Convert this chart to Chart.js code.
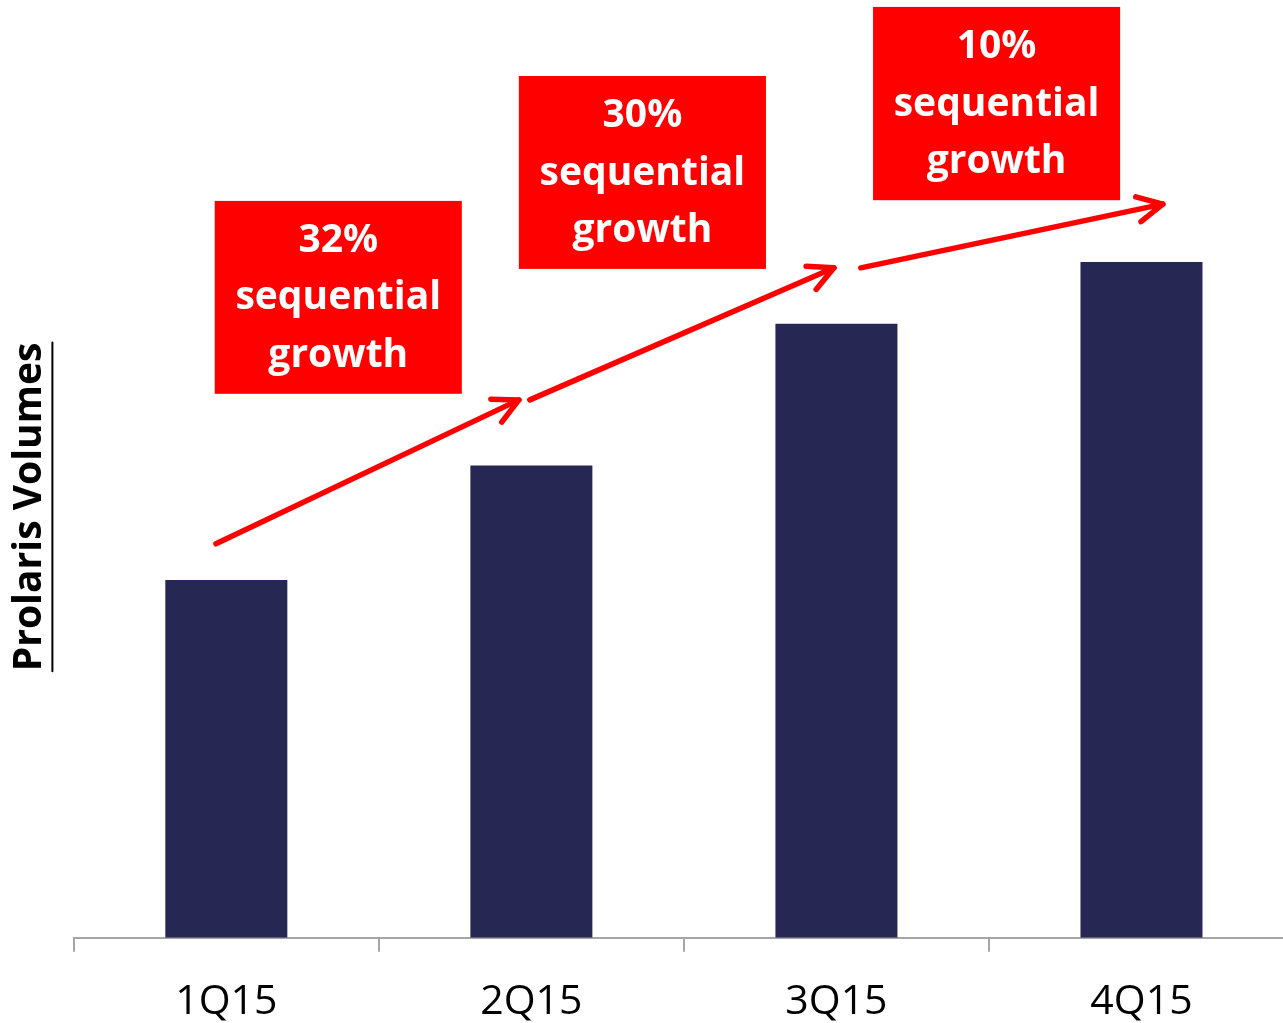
<!DOCTYPE html>
<html>
<head>
<meta charset="utf-8">
<script src="https://cdn.jsdelivr.net/npm/chart.js@4/dist/chart.umd.min.js"></script>
<style>
  html, body { margin: 0; padding: 0; background: #ffffff; overflow: hidden; }
  #wrap { width: 1283px; height: 1023px; overflow: hidden; }
  canvas { display: block; }
</style>
</head>
<body>
<div id="wrap"><canvas id="c" width="1296" height="1053"></canvas></div>
<script>
// ---- data ----
const categories = ['1Q15', '2Q15', '3Q15', '4Q15'];
const volumes = [100, 132, 171.6, 188.8];          // relative Prolaris volumes (1Q15 = 100)
const growthLabels = ['32%', '30%', '10%'];
const growthText = ['sequential', 'growth'];
const axisTitle = 'Prolaris Volumes';

// ---- annotation layout (data coordinates: category index, value) ----
const boxLayout = [
  { x0: -0.038, x1: 0.772, yTop: 205.9, yBot: 152.0 },
  { x0: 0.959,  x1: 1.769, yTop: 240.8, yBot: 186.9 },
  { x0: 2.120,  x1: 2.930, yTop: 260.1, yBot: 206.1 }
];
const arrowLayout = [
  { x0: -0.034, y0: 110.1, x1: 0.959, y1: 150.3 },
  { x0: 0.995,  y0: 150.3, x1: 1.992, y1: 187.2 },
  { x0: 2.080,  y0: 187.2, x1: 3.070, y1: 205.0 }
];

const RED = '#ff0000';
const TITLE_FONT = { family: 'Open Sans', size: 39, weight: 'bold', lineHeight: 1.2 };
const TITLE_PAD = { top: 6, bottom: 13 };

const annotations = {
  id: 'annotations',
  afterDraw(chart) {
    const { ctx, scales: { x, y } } = chart;
    ctx.save();
    // arrows
    ctx.strokeStyle = RED;
    ctx.lineWidth = 5.5;
    ctx.lineCap = 'round';
    ctx.lineJoin = 'round';
    arrowLayout.forEach(a => {
      const sx = x.getPixelForValue(a.x0), sy = y.getPixelForValue(a.y0);
      const ex = x.getPixelForValue(a.x1), ey = y.getPixelForValue(a.y1);
      ctx.beginPath();
      ctx.moveTo(sx, sy);
      ctx.lineTo(ex, ey);
      ctx.stroke();
      const ang = Math.atan2(ey - sy, ex - sx);
      const len = 28, spread = 0.47;
      ctx.beginPath();
      ctx.moveTo(ex - len * Math.cos(ang - spread), ey - len * Math.sin(ang - spread));
      ctx.lineTo(ex, ey);
      ctx.lineTo(ex - len * Math.cos(ang + spread), ey - len * Math.sin(ang + spread));
      ctx.stroke();
    });
    // boxes
    ctx.font = 'bold 39px "Open Sans"';
    ctx.textAlign = 'center';
    ctx.textBaseline = 'middle';
    boxLayout.forEach((b, i) => {
      const l = x.getPixelForValue(b.x0), r = x.getPixelForValue(b.x1);
      const t = y.getPixelForValue(b.yTop), bt = y.getPixelForValue(b.yBot);
      ctx.fillStyle = RED;
      ctx.fillRect(l, t, r - l, bt - t);
      ctx.fillStyle = '#ffffff';
      const lines = [growthLabels[i]].concat(growthText);
      const cx = (l + r) / 2, cy = (t + bt) / 2, pitch = 57.5;
      lines.forEach((s, k) => ctx.fillText(s, cx, cy + (k - 1) * pitch + 1));
    });
    // underline for the axis title
    const tx = y.left + TITLE_PAD.top + TITLE_FONT.size * TITLE_FONT.lineHeight / 2;
    const ty = (y.top + y.bottom) / 2;
    ctx.font = 'bold ' + TITLE_FONT.size + 'px "Open Sans"';
    const w = ctx.measureText(axisTitle).width;
    ctx.strokeStyle = '#000000';
    ctx.lineWidth = 2;
    ctx.beginPath();
    ctx.moveTo(tx + 23, ty - w / 2);
    ctx.lineTo(tx + 23, ty + w / 2);
    ctx.stroke();
    ctx.restore();
  }
};

new Chart(document.getElementById('c'), {
  type: 'bar',
  data: {
    labels: categories,
    datasets: [{
      data: volumes,
      backgroundColor: '#262853',
      borderWidth: 0,
      categoryPercentage: 0.8,
      barPercentage: 0.5
    }]
  },
  options: {
    responsive: false,
    animation: false,
    devicePixelRatio: 1,
    layout: { padding: { top: 76, right: 2, bottom: 0, left: 0 } },
    plugins: { legend: { display: false }, tooltip: { enabled: false } },
    scales: {
      x: {
        offset: true,
        grid: { display: true, drawOnChartArea: false, offset: true, tickLength: 14, color: '#a6a6a6', lineWidth: 2 },
        border: { display: true, color: '#a6a6a6', width: 2 },
        ticks: { color: '#000000', padding: 26, font: { family: 'Open Sans', size: 41 } }
      },
      y: {
        min: 0,
        max: 240.8,
        grid: { display: false },
        border: { display: false },
        ticks: { display: false },
        title: {
          display: true,
          text: axisTitle,
          color: '#000000',
          font: TITLE_FONT,
          padding: TITLE_PAD
        }
      }
    }
  },
  plugins: [annotations]
});
</script>
</body>
</html>
